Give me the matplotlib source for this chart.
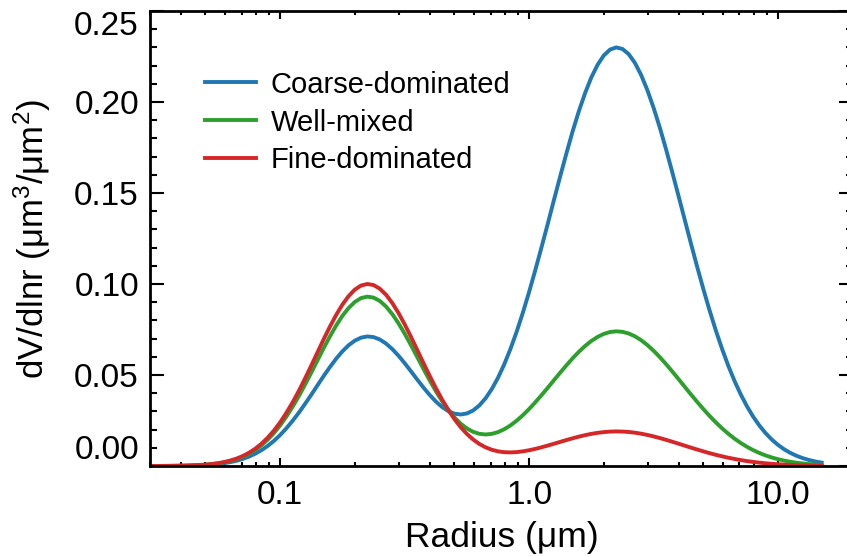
import matplotlib
matplotlib.use("Agg")
import matplotlib.pyplot as plt
from matplotlib.ticker import FixedLocator, FixedFormatter, LogLocator, MultipleLocator, NullFormatter

plt.rcParams['font.family'] = ['Liberation Sans', 'DejaVu Sans']
plt.rcParams['mathtext.fontset'] = 'custom'
plt.rcParams['mathtext.rm'] = 'Liberation Sans'
plt.rcParams['mathtext.it'] = 'Liberation Sans:italic'
plt.rcParams['mathtext.default'] = 'regular'

# ---- data ----
radius = [0.030,
          0.03162, 0.03350, 0.03548, 0.03758, 0.03981, 0.04217, 0.04467, 0.04732, 0.05012, 0.05309,
          0.05623, 0.05957, 0.06310, 0.06683, 0.07079, 0.07499, 0.07943, 0.08414, 0.08913, 0.09441,
          0.1000, 0.1059, 0.1122, 0.1189, 0.1259, 0.1334, 0.1413, 0.1496, 0.1585, 0.1679,
          0.1778, 0.1884, 0.1995, 0.2113, 0.2239, 0.2371, 0.2512, 0.2661, 0.2818, 0.2985,
          0.3162, 0.3350, 0.3548, 0.3758, 0.3981, 0.4217, 0.4467, 0.4732, 0.5012, 0.5309,
          0.5623, 0.5957, 0.6310, 0.6683, 0.7079, 0.7499, 0.7943, 0.8414, 0.8913, 0.9441,
          1.000, 1.059, 1.122, 1.189, 1.259, 1.334, 1.413, 1.496, 1.585, 1.679,
          1.778, 1.884, 1.995, 2.113, 2.239, 2.371, 2.512, 2.661, 2.818, 2.985,
          3.162, 3.350, 3.548, 3.758, 3.981, 4.217, 4.467, 4.732, 5.012, 5.309,
          5.623, 5.957, 6.310, 6.683, 7.079, 7.499, 7.943, 8.414, 8.913, 9.441,
          10.00, 10.59, 11.22, 11.89, 12.59, 13.34, 14.13, 14.96]

coarse_dominated = [0.00001,
    0.00002, 0.00003, 0.00004, 0.00007, 0.00011, 0.00016, 0.00024, 0.00036, 0.00053, 0.00077,
    0.00109, 0.00154, 0.00213, 0.00290, 0.00390, 0.00517, 0.00675, 0.00870, 0.01104, 0.01381,
    0.01703, 0.02072, 0.02483, 0.02933, 0.03415, 0.03920, 0.04437, 0.04948, 0.05441, 0.05897,
    0.06300, 0.06635, 0.06889, 0.07052, 0.07118, 0.07083, 0.06952, 0.06730, 0.06430, 0.06065,
    0.05652, 0.05211, 0.04761, 0.04322, 0.03912, 0.03547, 0.03245, 0.03017, 0.02876, 0.02830,
    0.02886, 0.03050, 0.03327, 0.03718, 0.04224, 0.04847, 0.05583, 0.06430, 0.07381, 0.08429,
    0.09562, 0.10766, 0.12026, 0.13321, 0.14632, 0.15930, 0.17193, 0.18393, 0.19503, 0.20497,
    0.21351, 0.22044, 0.22558, 0.22879, 0.23000, 0.22915, 0.22629, 0.22148, 0.21485, 0.20657,
    0.19685, 0.18593, 0.17405, 0.16149, 0.14850, 0.13535, 0.12227, 0.10948, 0.09715, 0.08545,
    0.07450, 0.06437, 0.05511, 0.04678, 0.03935, 0.03282, 0.02711, 0.02221, 0.01803, 0.01451,
    0.01157, 0.00914, 0.00716, 0.00556, 0.00428, 0.00327, 0.00247, 0.00185]

well_mixed = [0.00001,
    0.00002, 0.00004, 0.00006, 0.00009, 0.00014, 0.00021, 0.00032, 0.00048, 0.00070, 0.00101,
    0.00143, 0.00201, 0.00279, 0.00380, 0.00511, 0.00677, 0.00884, 0.01139, 0.01446, 0.01809,
    0.02231, 0.02713, 0.03252, 0.03842, 0.04473, 0.05135, 0.05811, 0.06481, 0.07125, 0.07721,
    0.08249, 0.08686, 0.09015, 0.09225, 0.09306, 0.09253, 0.09071, 0.08766, 0.08353, 0.07849,
    0.07275, 0.06653, 0.06004, 0.05354, 0.04720, 0.04121, 0.03573, 0.03086, 0.02669, 0.02328,
    0.02064, 0.01878, 0.01769, 0.01732, 0.01765, 0.01862, 0.02019, 0.02230, 0.02490, 0.02793,
    0.03132, 0.03502, 0.03895, 0.04303, 0.04719, 0.05133, 0.05536, 0.05921, 0.06277, 0.06596,
    0.06870, 0.07092, 0.07258, 0.07361, 0.07400, 0.07373, 0.07280, 0.07126, 0.06913, 0.06646,
    0.06333, 0.05982, 0.05600, 0.05196, 0.04778, 0.04355, 0.03934, 0.03522, 0.03126, 0.02749,
    0.02397, 0.02071, 0.01773, 0.01505, 0.01266, 0.01056, 0.00872, 0.00715, 0.00580, 0.00467,
    0.00372, 0.00294, 0.00231, 0.00179, 0.00138, 0.00105, 0.00079, 0.00060]

fine_dominated = [0.00001,
    0.00002, 0.00004, 0.00006, 0.00010, 0.00015, 0.00023, 0.00034, 0.00051, 0.00075, 0.00108,
    0.00154, 0.00216, 0.00300, 0.00408, 0.00549, 0.00728, 0.00951, 0.01225, 0.01555, 0.01946,
    0.02399, 0.02918, 0.03497, 0.04131, 0.04810, 0.05522, 0.06248, 0.06968, 0.07661, 0.08302,
    0.08868, 0.09338, 0.09692, 0.09916, 0.10001, 0.09943, 0.09744, 0.09413, 0.08964, 0.08415,
    0.07788, 0.07107, 0.06394, 0.05675, 0.04968, 0.04291, 0.03662, 0.03088, 0.02578, 0.02136,
    0.01763, 0.01456, 0.01212, 0.01026, 0.00893, 0.00806, 0.00759, 0.00747, 0.00764, 0.00805,
    0.00865, 0.00941, 0.01028, 0.01124, 0.01224, 0.01326, 0.01427, 0.01523, 0.01614, 0.01695,
    0.01765, 0.01821, 0.01863, 0.01890, 0.01900, 0.01893, 0.01869, 0.01830, 0.01775, 0.01707,
    0.01626, 0.01536, 0.01438, 0.01334, 0.01227, 0.01118, 0.01010, 0.00904, 0.00803, 0.00706,
    0.00615, 0.00532, 0.00455, 0.00387, 0.00325, 0.00271, 0.00224, 0.00184, 0.00149, 0.00120,
    0.00096, 0.00076, 0.00059, 0.00046, 0.00035, 0.00027, 0.00020, 0.00015]

series_labels = ['Coarse-dominated', 'Well-mixed', 'Fine-dominated']
series_colors = ['#1f77b4', '#2ca02c', '#d62728']

x_ticks = [0.1, 1.0, 10.0]
x_ticklabels = ['0.1', '1.0', '10.0']
y_ticks = [0.00, 0.05, 0.10, 0.15, 0.20, 0.25]
y_ticklabels = ['0.00', '0.05', '0.10', '0.15', '0.20', '0.25']

# ---- figure ----
W, H = 847, 557
fig = plt.figure(figsize=(W / 100, H / 100), dpi=100)
ax = fig.add_axes([150 / W, 91 / H, 703 / W, 455 / H])

for vals, lab, col in zip([coarse_dominated, well_mixed, fine_dominated], series_labels, series_colors):
    ax.plot(radius, vals, color=col, lw=2.8, label=lab, solid_joinstyle='round')

ax.set_xscale('log')
ax.set_xlim(0.03, 20)
ax.set_ylim(0.0, 0.25)

ax.xaxis.set_major_locator(FixedLocator(x_ticks))
ax.xaxis.set_major_formatter(FixedFormatter(x_ticklabels))
ax.xaxis.set_minor_locator(LogLocator(base=10, subs=[2, 3, 4, 5, 6, 7, 8, 9], numticks=20))
ax.xaxis.set_minor_formatter(NullFormatter())
ax.yaxis.set_major_locator(FixedLocator(y_ticks))
ax.yaxis.set_major_formatter(FixedFormatter(y_ticklabels))
ax.yaxis.set_minor_locator(MultipleLocator(0.01))

for s in ax.spines.values():
    s.set_linewidth(2.0)

ax.tick_params(axis='both', which='both', direction='in', top=True, right=True, width=1.5)
ax.tick_params(axis='x', which='major', length=6, pad=10, labelsize=24)
ax.tick_params(axis='x', which='minor', length=3)
ax.tick_params(axis='y', which='major', length=10, pad=8, labelsize=24)
ax.tick_params(axis='y', which='minor', length=5)

ax.set_xlabel('Radius (μm)', fontsize=25.5, labelpad=7)
ax.set_ylabel('dV/dlnr (μm$^3$/μm$^2$)', fontsize=25, labelpad=15)

fig.canvas.draw()
ylabels = ax.get_yticklabels()
ylabels[0].set_va('bottom')
ylabels[-1].set_va('top')

leg = ax.legend(loc='upper left', bbox_to_anchor=(0.078, 0.869), frameon=False,
                fontsize=21, handlelength=1.75, handletextpad=0.5, labelspacing=0.34,
                borderpad=0, borderaxespad=0)

fig.savefig('out.png', dpi=100)
